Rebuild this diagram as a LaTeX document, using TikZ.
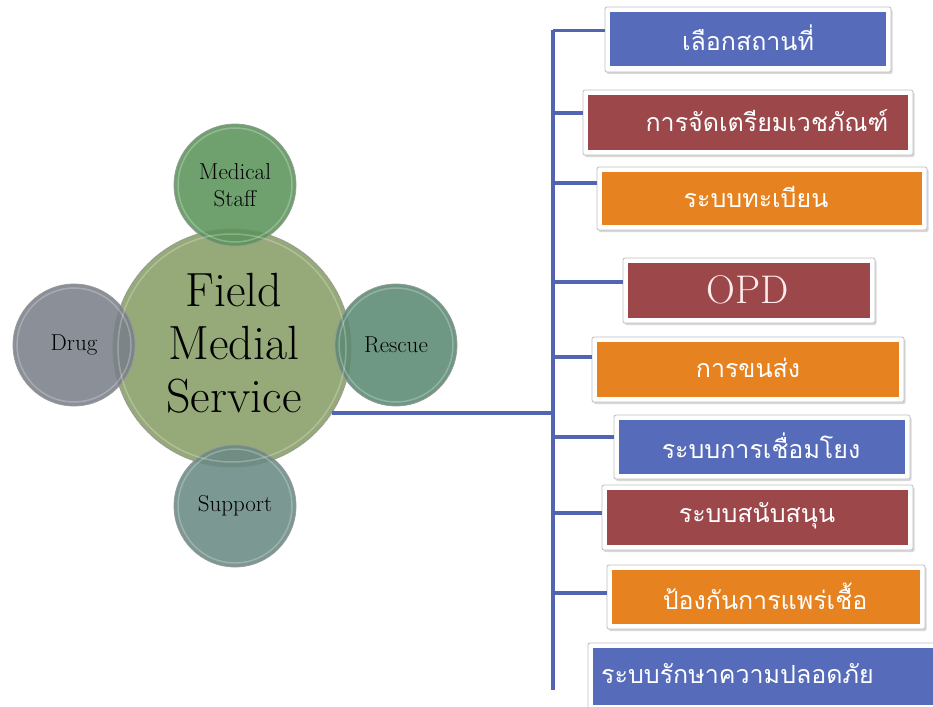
\documentclass[tikz,border=0pt]{standalone}
\usepackage{fontspec}
\newfontfamily\thaifont[Script=Thai]{Loma}
\usetikzlibrary{shadows}
\definecolor{bblue}{RGB}{86,108,186}
\definecolor{bred}{RGB}{156,72,75}
\definecolor{borange}{RGB}{230,130,32}
\definecolor{wireblue}{RGB}{82,100,178}
\definecolor{cmain}{RGB}{136,158,102}
\definecolor{cms}{RGB}{92,148,92}
\definecolor{cdrug}{RGB}{122,128,138}
\definecolor{cres}{RGB}{92,138,116}
\definecolor{csup}{RGB}{106,138,132}
\tikzset{
  bub/.style={circle, inner sep=0pt, draw=black!40, line width=0.7pt, fill opacity=0.88, text opacity=1, align=center, font=\fontsize{23}{27}\selectfont},
  ring/.style={draw=white, opacity=0.25, line width=1.5pt},
  frame/.style={draw=black!25, fill=white, line width=0.8pt, rounded corners=2pt, inner sep=0pt, drop shadow={shadow xshift=1.5pt, shadow yshift=-2pt, opacity=0.3}},
  tbox/.style={inner sep=0pt, text=white, font=\thaifont\fontsize{25}{30}\selectfont},
  wire/.style={draw=wireblue, line width=3.2pt},
}
\begin{document}
\begin{tikzpicture}[x=1pt,y=-1pt]
\useasboundingbox (0,0) rectangle (933,706);
\fill[white] (0,0) rectangle (933,706);
% circles
\node[bub, fill=cmain, minimum size=238pt] (main) at (232,348) {};
\node[bub, fill=cms, minimum size=122pt] (ms) at (235,185) {Medical\\Staff};
\node[bub, fill=cdrug, minimum size=122pt] (drug) at (74,345) {Drug};
\node[bub, fill=cres, minimum size=122pt] (res) at (396,345) {Rescue};
\node[bub, fill=csup, minimum size=122pt] (sup) at (235,506) {Support};
\foreach \n/\r in {main/114, ms/57, drug/57, res/57, sup/57}
  \draw[ring] (\n.center) circle (\r pt);
\node[align=center, font=\fontsize{48}{53}\selectfont] (title) at (234,343) {Field\\Medial\\Service};
% frames
\node[frame, minimum width=286pt, minimum height=65pt] (f1) at (748,39.5) {};
\node[frame, minimum width=330pt, minimum height=65pt] (f2) at (748,122.5) {};
\node[frame, minimum width=330pt, minimum height=63pt] (f3) at (762,198.5) {};
\node[frame, minimum width=252pt, minimum height=65pt] (f4) at (749,290.5) {};
\node[frame, minimum width=312pt, minimum height=65pt] (f5) at (748,369.5) {};
\node[frame, minimum width=296pt, minimum height=64pt] (f6) at (762,447) {};
\node[frame, minimum width=311pt, minimum height=65pt] (f7) at (757.5,517.5) {};
\node[frame, minimum width=318pt, minimum height=64pt] (f8) at (766,597) {};
\node[frame, minimum width=357pt, minimum height=67pt] (f9) at (766.5,676.5) {};
% inner boxes
\node[fill=bblue, minimum width=276pt, minimum height=54pt, inner sep=0pt] (b1) at (f1.center) {};
\node[fill=bred, minimum width=320pt, minimum height=54pt, inner sep=0pt] (b2) at (f2.center) {};
\node[fill=borange, minimum width=320pt, minimum height=53pt, inner sep=0pt] (b3) at (f3.center) {};
\node[fill=bred, minimum width=242pt, minimum height=55pt, inner sep=0pt] (b4) at (f4.center) {};
\node[fill=borange, minimum width=302pt, minimum height=55pt, inner sep=0pt] (b5) at (f5.center) {};
\node[fill=bblue, minimum width=286pt, minimum height=54pt, inner sep=0pt] (b6) at (f6.center) {};
\node[fill=bred, minimum width=301pt, minimum height=55pt, inner sep=0pt] (b7) at (f7.center) {};
\node[fill=borange, minimum width=308pt, minimum height=54pt, inner sep=0pt] (b8) at (f8.center) {};
\node[fill=bblue, minimum width=347pt, minimum height=57pt, inner sep=0pt] (b9) at (f9.center) {};
% texts
\node[tbox] (t1) at (748,38) {เลือกสถานที่};
\node[tbox] (t2) at (767,121) {การจัดเตรียมเวชภัณฑ์};
\node[tbox] (t3) at (756,197) {ระบบทะเบียน};
\node[inner sep=0pt, text=white!92!red, font=\fontsize{40}{44}\selectfont] (t4) at (748,290) {OPD};
\node[tbox] (t5) at (748,368) {การขนส่ง};
\node[tbox] (t6) at (761,446) {ระบบการเชื่อมโยง};
\node[tbox] (t7) at (757,516) {ระบบสนับสนุน};
\node[tbox] (t8) at (765,596) {ป้องกันการแพร่เชื้อ};
\node[tbox, anchor=west] (t9) at (601,674) {ระบบรักษาความปลอดภัย};
% connectors
\coordinate (spT) at (553,30);
\coordinate (spB) at (553,690);
\draw[wire] (spT) -- (spB);
\draw[wire] (main.-33) -- (main.-33 -| spT);
\draw[wire] ([yshift=9pt]f1.west -| spT) -- ([yshift=9pt]f1.west);
\draw[wire] ([yshift=9.5pt]f2.west -| spT) -- ([yshift=9.5pt]f2.west);
\draw[wire] ([yshift=15.5pt]f3.west -| spT) -- ([yshift=15.5pt]f3.west);
\draw[wire] ([yshift=8.5pt]f4.west -| spT) -- ([yshift=8.5pt]f4.west);
\draw[wire] ([yshift=12.5pt]f5.west -| spT) -- ([yshift=12.5pt]f5.west);
\draw[wire] ([yshift=10pt]f6.west -| spT) -- ([yshift=10pt]f6.west);
\draw[wire] ([yshift=4.5pt]f7.west -| spT) -- ([yshift=4.5pt]f7.west);
\draw[wire] ([yshift=4pt]f8.west -| spT) -- ([yshift=4pt]f8.west);
\end{tikzpicture}
\end{document}
